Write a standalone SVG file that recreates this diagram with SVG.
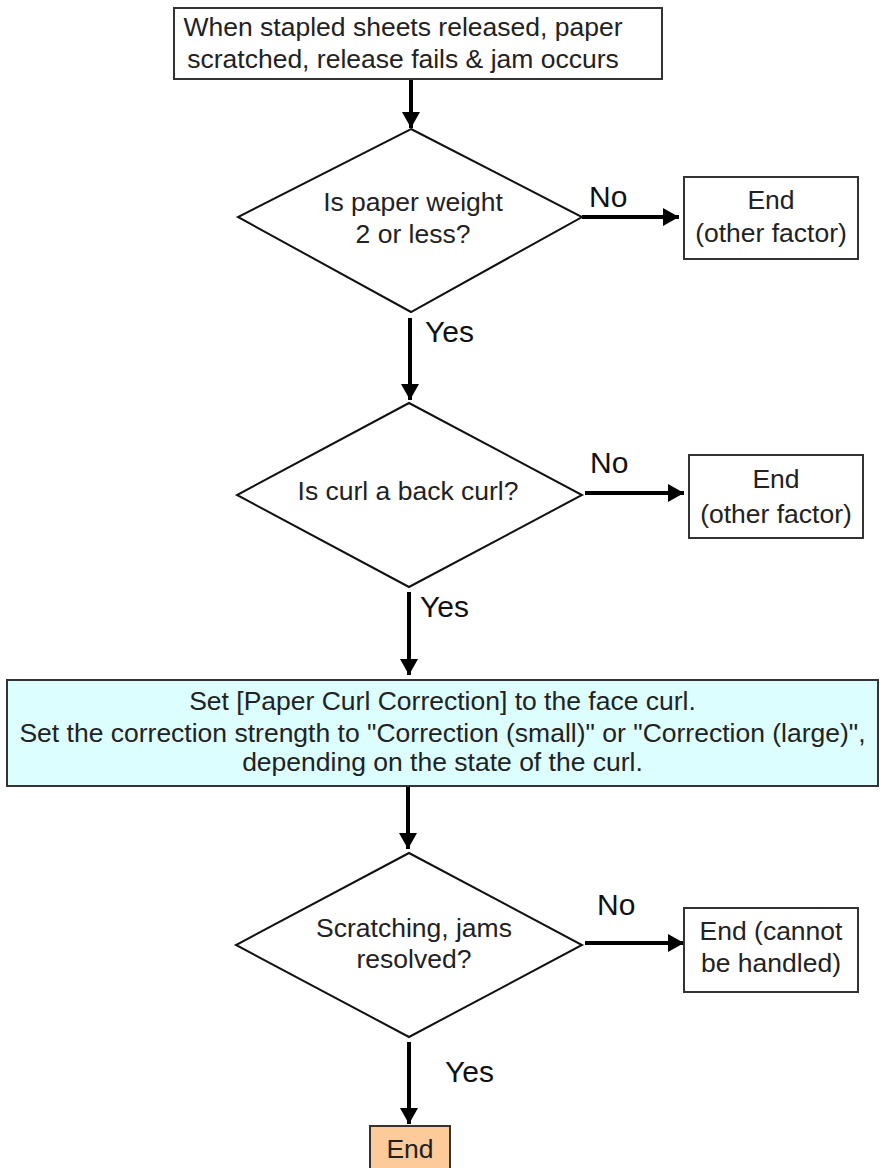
<svg xmlns="http://www.w3.org/2000/svg" width="881" height="1168" viewBox="0 0 881 1168">
  <style>
    .box { fill: #ffffff; stroke: #333333; stroke-width: 2; }
    .proc { fill: #dcfeff; stroke: #333333; stroke-width: 2; }
    .term { fill: #fdca9a; stroke: #333333; stroke-width: 2; }
    .dia { fill: #ffffff; stroke: #111111; stroke-width: 2; }
    .t { font-family: "Liberation Sans", Arial, sans-serif; font-size: 26.5px; fill: #222222; text-anchor: middle; }
    .lbl { font-family: "Liberation Sans", Arial, sans-serif; font-size: 30px; fill: #111111; }
    .flow { stroke: #000000; stroke-width: 4; fill: none; marker-end: url(#head); }
  </style>
  <defs>
    <marker id="head" viewBox="0 0 16 18" refX="16" refY="9" markerWidth="16" markerHeight="18" markerUnits="userSpaceOnUse" orient="auto">
      <path d="M0,0 L16,9 L0,18 Z" fill="#000000"/>
    </marker>
  </defs>

  <rect width="881" height="1168" fill="#ffffff"/>

  <!-- connectors -->
  <g id="connectors">
    <line class="flow" x1="411" y1="80" x2="411" y2="128"/>
    <line class="flow" x1="582" y1="217" x2="679" y2="217"/>
    <line class="flow" x1="410" y1="318" x2="410" y2="400"/>
    <line class="flow" x1="585" y1="493" x2="684" y2="493"/>
    <line class="flow" x1="409" y1="592" x2="409" y2="675"/>
    <line class="flow" x1="408" y1="787" x2="408" y2="849"/>
    <line class="flow" x1="585" y1="943" x2="684" y2="943"/>
    <line class="flow" x1="409" y1="1042" x2="409" y2="1124"/>
  </g>

  <!-- branch labels -->
  <g id="labels">
    <text class="lbl" x="589" y="207">No</text>
    <text class="lbl" x="425" y="342">Yes</text>
    <text class="lbl" x="590" y="473">No</text>
    <text class="lbl" x="420" y="617">Yes</text>
    <text class="lbl" x="597" y="915">No</text>
    <text class="lbl" x="445" y="1082">Yes</text>
  </g>

  <g id="start">
    <rect class="box" x="174" y="8" width="488" height="71"/>
    <text class="t" x="403" y="36">When stapled sheets released, paper</text>
    <text class="t" x="403" y="68">scratched, release fails &amp; jam occurs</text>
  </g>

  <g id="check-weight">
    <polygon class="dia" points="411,129 582,217 411,312 238,217"/>
    <text class="t" x="413" y="211">Is paper weight</text>
    <text class="t" x="413" y="243">2 or less?</text>
  </g>

  <g id="end-other-1">
    <rect class="box" x="684" y="177" width="174" height="82"/>
    <text class="t" x="771" y="209">End</text>
    <text class="t" x="771" y="242">(other factor)</text>
  </g>

  <g id="check-curl">
    <polygon class="dia" points="409,403 582,495 409,587 237,495"/>
    <text class="t" x="408" y="500">Is curl a back curl?</text>
  </g>

  <g id="end-other-2">
    <rect class="box" x="689" y="455" width="174" height="83"/>
    <text class="t" x="776" y="488">End</text>
    <text class="t" x="776" y="523">(other factor)</text>
  </g>

  <g id="set-correction">
    <rect class="proc" x="7" y="680" width="871" height="106"/>
    <text class="t" x="442.5" y="710">Set [Paper Curl Correction] to the face curl.</text>
    <text class="t" x="442.5" y="742">Set the correction strength to "Correction (small)" or "Correction (large)",</text>
    <text class="t" x="442.5" y="771">depending on the state of the curl.</text>
  </g>

  <g id="check-resolved">
    <polygon class="dia" points="409,853 582,945 409,1037 236,945"/>
    <text class="t" x="414" y="937">Scratching, jams</text>
    <text class="t" x="414" y="968">resolved?</text>
  </g>

  <g id="end-unhandled">
    <rect class="box" x="684" y="908" width="174" height="84"/>
    <text class="t" x="771" y="940">End (cannot</text>
    <text class="t" x="771" y="972">be handled)</text>
  </g>

  <g id="end">
    <rect class="term" x="370" y="1126" width="80" height="60"/>
    <text class="t" x="410" y="1158">End</text>
  </g>
</svg>
